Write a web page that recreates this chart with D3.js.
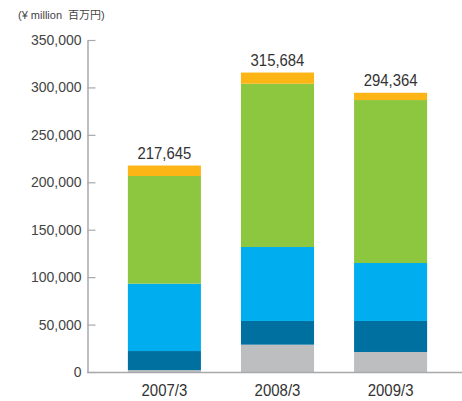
<!DOCTYPE html>
<html><head><meta charset="utf-8">
<script src="https://cdn.jsdelivr.net/npm/d3@7"></script>
<style>
html,body{margin:0;padding:0;background:#fff;}
svg{display:block;}
</style></head>
<body>
<svg id="chart" width="462" height="401"></svg>
<script>
const categories = ["2007/3", "2008/3", "2009/3"];
const totals = [217645, 315684, 294364];
// stacked segments, bottom to top
const seriesGray   = [2000, 28800, 21100];
const seriesNavy   = [20100, 25000, 32700];
const seriesBlue   = [71000, 78000, 61100];
const seriesGreen  = [113500, 172100, 171800];
const seriesOrange = [11045, 11784, 7664];
const seriesKeys = ["gray", "navy", "blue", "green", "orange"];
const seriesColors = ["#bcbec0", "#0070a0", "#00aeef", "#8dc63f", "#fdb515"];
const yTicks = [0, 50000, 100000, 150000, 200000, 250000, 300000, 350000];
const unitLabel = "(¥ million\u00a0\u00a0百万円)";

const rows = categories.map((c, i) => ({
  cat: c, gray: seriesGray[i], navy: seriesNavy[i], blue: seriesBlue[i],
  green: seriesGreen[i], orange: seriesOrange[i], total: totals[i]
}));

const svg = d3.select("#chart");
const x = d3.scaleBand().domain(categories).range([87.5, 467.5])
  .paddingInner(0.354).paddingOuter(0.357);
const y = d3.scaleLinear().domain([0, 350000]).range([372, 40]);

const stack = d3.stack().keys(seriesKeys)(rows);
const color = d3.scaleOrdinal().domain(seriesKeys).range(seriesColors);

svg.append("g").selectAll("g").data(stack).join("g")
  .attr("fill", d => color(d.key))
  .selectAll("rect").data(d => d).join("rect")
  .attr("x", d => x(d.data.cat))
  .attr("width", x.bandwidth())
  .attr("y", d => y(d[1]))
  .attr("height", d => y(d[0]) - y(d[1]));

function condense(sel, k) {
  sel.each(function() {
    const w = this.getComputedTextLength();
    d3.select(this).attr("textLength", w * k).attr("lengthAdjust", "spacingAndGlyphs");
  });
}

// y axis
const fmt = d3.format(",");
const yAxis = svg.append("g").attr("transform", "translate(87.5,0)")
  .call(d3.axisLeft(y).tickValues(yTicks).tickFormat(fmt)
    .tickSizeInner(-8).tickSizeOuter(0).tickPadding(6));
yAxis.select(".domain").attr("stroke", "#a7a9ac").attr("stroke-width", 1.5);
yAxis.selectAll(".tick line").attr("stroke", "#a7a9ac").attr("stroke-width", 1.2);
yAxis.selectAll(".tick text").attr("fill", "#444")
  .style("font-family", "'Liberation Sans', Arial, sans-serif").style("font-size", "14px");

// x axis
const xAxis = svg.append("g").attr("transform", "translate(0,372)")
  .call(d3.axisBottom(x).tickSize(0).tickPadding(12));
xAxis.select(".domain").remove();
xAxis.selectAll(".tick text").attr("fill", "#333")
  .style("font-family", "'Liberation Sans', Arial, sans-serif")
  .style("font-size", "17px")
  .call(condense, 0.88);
svg.append("line").attr("x1", 87).attr("x2", 462).attr("y1", 372.5).attr("y2", 372.5)
  .attr("stroke", "#a7a9ac").attr("stroke-width", 1.5);

// totals
svg.append("g").selectAll("text").data(rows).join("text")
  .attr("x", d => x(d.cat) + x.bandwidth() / 2)
  .attr("y", d => y(d.total) - 7)
  .attr("text-anchor", "middle")
  .attr("fill", "#333")
  .style("font-family", "'Liberation Sans', Arial, sans-serif")
  .style("font-size", "16px")
  .text(d => fmt(d.total))
  .call(condense, 0.93);

svg.append("text").attr("x", 18).attr("y", 18.5)
  .attr("fill", "#444")
  .style("font-family", "'Liberation Sans', Arial, 'Noto Sans CJK JP', sans-serif")
  .style("font-size", "11px")
  .text(unitLabel);
</script>
</body></html>
